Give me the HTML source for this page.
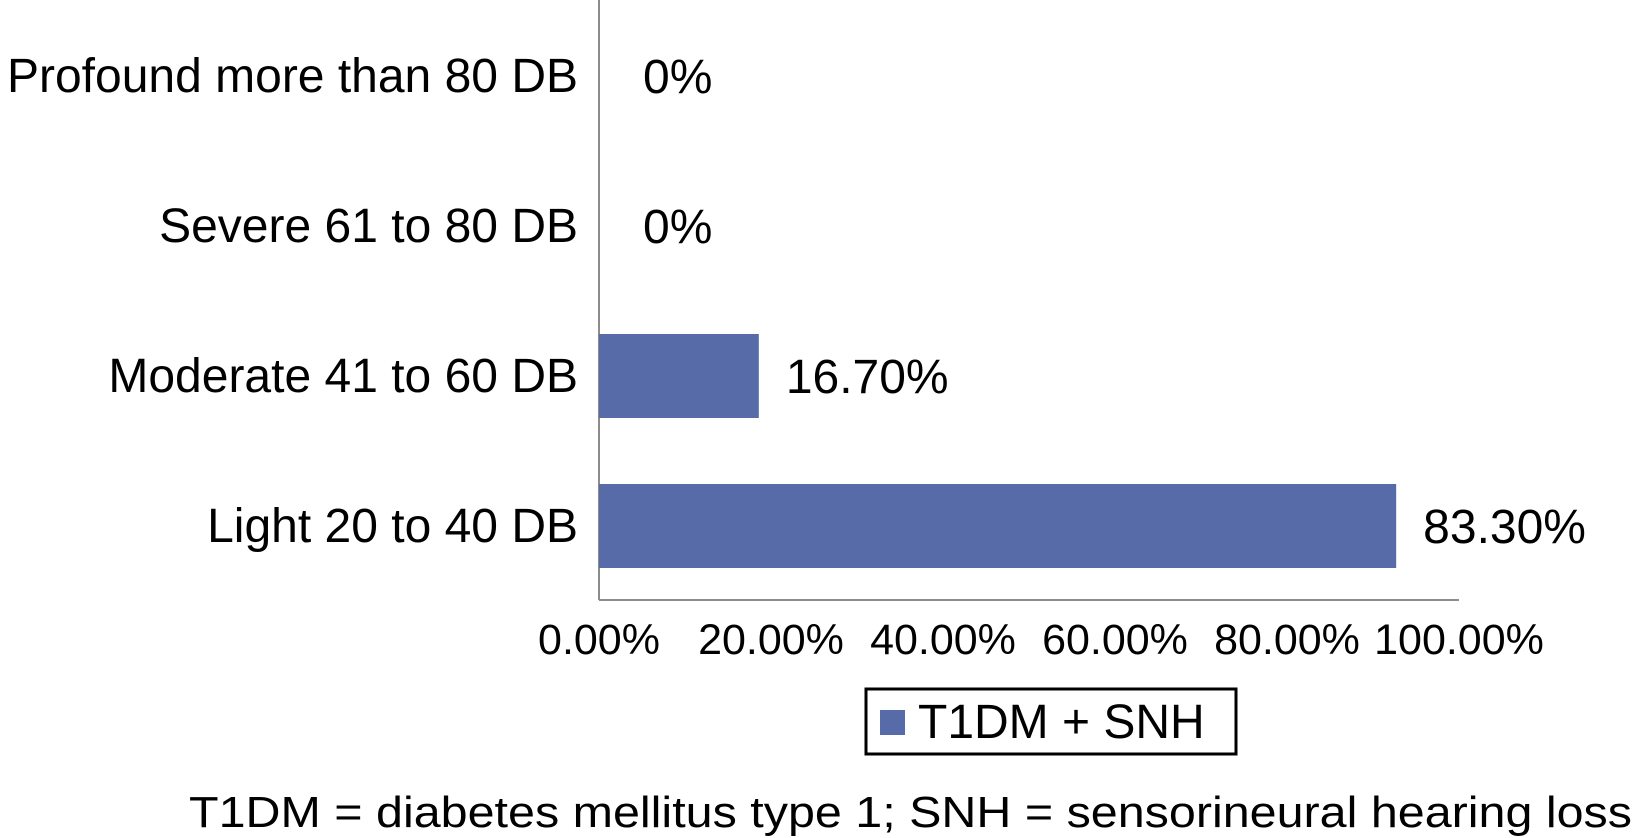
<!DOCTYPE html>
<html><head><meta charset="utf-8"><style>
html,body{margin:0;padding:0;background:#fff;}
svg{display:block;font-family:"Liberation Sans",Arial,sans-serif;}
</style></head><body>
<svg id="chart" width="1643" height="838" viewBox="0 0 1643 838" xmlns="http://www.w3.org/2000/svg">
<g id="plot"></g>
</svg>
<script>
const categories = ["Profound more than 80 DB","Severe 61 to 80 DB","Moderate 41 to 60 DB","Light 20 to 40 DB"];
const values = [0, 0, 16.7, 83.3];
const valueLabels = ["0%","0%","16.70%","83.30%"];
const tickValues = [0,20,40,60,80,100];
const tickLabels = ["0.00%","20.00%","40.00%","60.00%","80.00%","100.00%"];

const NS="http://www.w3.org/2000/svg";
const g=document.getElementById('plot');
const x0=599, axisBottom=600, axisRight=1459;
function xTick(v){return x0+v/100*(axisRight-x0);}
function xBar(v){return v*9.57;}
function yC(i){return 76+i*150;}
function mk(t,a,txt){const e=document.createElementNS(NS,t);for(const k in a)e.setAttribute(k,a[k]);if(txt!==undefined)e.textContent=txt;g.appendChild(e);return e;}

let e=mk('line',{x1:x0,y1:0,x2:x0,y2:axisBottom,stroke:'#8c8c8c','stroke-width':2});


e=mk('line',{x1:x0,y1:axisBottom,x2:axisRight,y2:axisBottom,stroke:'#8c8c8c','stroke-width':2});



categories.forEach((c,i)=>{
  const y=yC(i);
  let t=mk('text',{x:578,y:y+16,'text-anchor':'end','font-size':48,fill:'#000'},c);
  
  
  const w=xBar(values[i]);
  if(w>0){
    let r=mk('rect',{x:x0,y:y-42,width:w,height:84,fill:'#566ba8'});
    
    
  }
  let v=mk('text',{x:x0+w+(w>0?27:44),y:y+17,'font-size':48,fill:'#000'},valueLabels[i]);
  
  
});

tickValues.forEach((tv,i)=>{
  let t=mk('text',{x:xTick(tv),y:654,'text-anchor':'middle','font-size':43,fill:'#000'},tickLabels[i]);
  
  
});

e=mk('rect',{x:866,y:689,width:370,height:65,fill:'#fff',stroke:'#000','stroke-width':3});


e=mk('rect',{x:880,y:710,width:25,height:25,fill:'#566ba8'});


e=mk('text',{x:918,y:738,'font-size':48,fill:'#000'},'T1DM + SNH');


e=mk('text',{x:189,y:827,'font-size':44,fill:'#000',textLength:1443,lengthAdjust:'spacingAndGlyphs'},'T1DM = diabetes mellitus type 1; SNH = sensorineural hearing loss');


</script>
</body></html>
